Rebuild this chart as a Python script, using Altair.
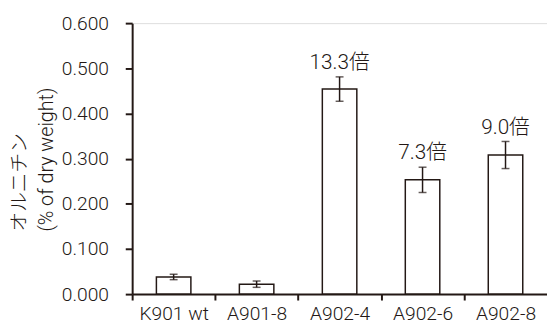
import altair as alt
import pandas as pd

categories = ["K901 wt", "A901-8", "A902-4", "A902-6", "A902-8"]
values = [0.038, 0.022, 0.454, 0.253, 0.308]
errors = [0.006, 0.007, 0.027, 0.028, 0.030]
fold_labels = ["", "", "13.3倍", "7.3倍", "9.0倍"]

df = pd.DataFrame({
    "cat": categories,
    "val": values,
    "err": errors,
    "lab": fold_labels,
})
df["lo"] = df["val"] - df["err"]
df["hi"] = df["val"] + df["err"]

INK = "#231815"
FONT = "Roboto, Noto Sans CJK JP"
W = 300

x = alt.X(
    "cat:N",
    sort=categories,
    title=None,
    axis=alt.Axis(
        labelAngle=0,
        labelFontSize=19.5,
        labelFont=FONT,
        labelFontWeight=W,
        labelColor=INK,
        labelPadding=5,
        tickOffset=-42.1,
        labelOffset=42.1,
        tickSize=6,
        tickWidth=2,
        tickColor=INK,
        domainColor=INK,
        domainWidth=2,
    ),
)

y_scale = alt.Scale(domain=[0, 0.6], nice=False)

bars = alt.Chart(df).mark_bar(
    size=35, fill="white", stroke=INK, strokeWidth=1.5
).encode(
    x=x,
    y=alt.Y(
        "val:Q",
        scale=y_scale,
        title=["オルニチン", "(% of dry weight)"],
        axis=alt.Axis(
            values=[0, 0.1, 0.2, 0.3, 0.4, 0.5, 0.6],
            format=".3f",
            grid=False,
            labelFontSize=19.5,
            labelFont=FONT,
            labelFontWeight=W,
            labelColor=INK,
            labelPadding=17,
            tickSize=7,
            tickWidth=2,
            tickColor=INK,
            domainColor=INK,
            domainWidth=2,
            titleFont=FONT,
            titleFontSize=20,
            titleFontWeight=W,
            titleColor=INK,
            titleLineHeight=27,
            titleAngle=270,
            titleAlign="left",
            titleBaseline="middle",
            titleX=-114,
            titleY=211,
        ),
    ),
)

rules = alt.Chart(df).mark_rule(color=INK, strokeWidth=1.5).encode(
    x=alt.X("cat:N", sort=categories),
    y=alt.Y("lo:Q", scale=y_scale),
    y2="hi:Q",
)

caps_hi = alt.Chart(df).mark_tick(color=INK, size=8, thickness=1.5).encode(
    x=alt.X("cat:N", sort=categories),
    y=alt.Y("hi:Q", scale=y_scale),
)
caps_lo = alt.Chart(df).mark_tick(color=INK, size=8, thickness=1.5).encode(
    x=alt.X("cat:N", sort=categories),
    y=alt.Y("lo:Q", scale=y_scale),
)

labels = alt.Chart(df).mark_text(
    font=FONT, fontSize=21, fontWeight=W, color=INK, baseline="alphabetic", dy=-8
).encode(
    x=alt.X("cat:N", sort=categories),
    y=alt.Y("hi:Q", scale=y_scale),
    text="lab:N",
)

chart = alt.layer(bars, rules, caps_hi, caps_lo, labels).properties(
    width=421,
    height=275,
    autosize=alt.AutoSizeParams(type="none"),
    padding={"left": 126, "top": 13, "right": 0, "bottom": 30},
).configure_view(stroke=None).configure(background="white")

chart.save("out.html", embed_options={"renderer": "svg", "actions": False})
